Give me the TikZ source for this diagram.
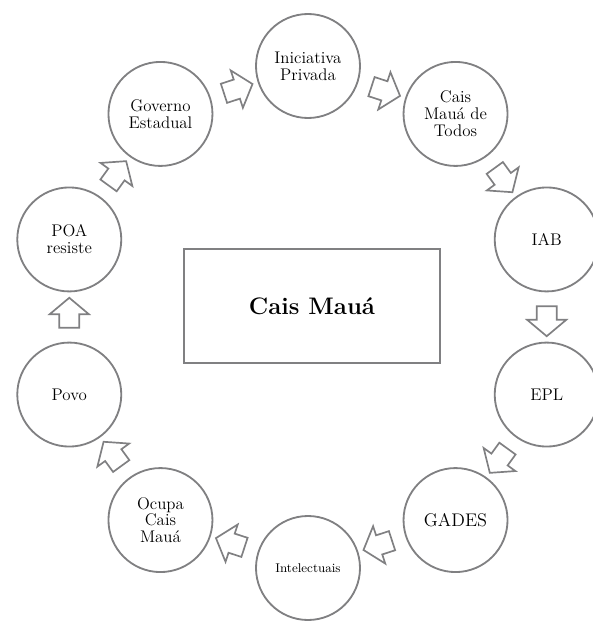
\documentclass[tikz,border=0pt]{standalone}
\usepackage{amsmath,amssymb}
\usepackage{xcolor}
\usepackage{tikz}
\usetikzlibrary{shapes.arrows,calc}

\definecolor{ringgray}{RGB}{128,128,130}

\begin{document}
\begin{tikzpicture}[
  actor/.style={draw=ringgray, circle, line width=1.3pt, minimum size=2.6cm, inner sep=1pt, align=center, font=\fontsize{12}{12}\selectfont},
  blockarrow/.style={draw=ringgray, single arrow, line width=1.2pt, inner sep=0.23cm, minimum height=0.75cm, single arrow head extend=0.24cm, single arrow tip angle=100}]
  \useasboundingbox (-7.7,-7.6) rectangle (7.1,7.925);

  % Centre
  \node[draw=ringgray, line width=1.3pt, minimum width=6.4cm, minimum height=2.85cm, font=\fontsize{17}{20}\selectfont\bfseries] (cais) at (0.1,0.275) {Cais Mauá};

  % Ring of actors
  \node[actor] (ini) at (90:6.275) {Iniciativa\\Privada};
  \node[actor] (todos) at (54:6.275) {Cais\\Mauá de\\Todos};
  \node[actor] (iab) at (18:6.275) {IAB};
  \node[actor] (epl) at (-18:6.275) {EPL};
  \node[actor, font=\fontsize{13}{15}\selectfont] (gades) at (-54:6.275) {GADES};
  \node[actor, font=\fontsize{9}{10}\selectfont] (intel) at (-90:6.275) {Intelectuais};
  \node[actor] (ocupa) at (-126:6.275) {Ocupa\\Cais\\Mauá};
  \node[actor] (povo) at (-162:6.275) {Povo};
  \node[actor] (poa) at (162:6.275) {POA\\resiste};
  \node[actor] (gov) at (126:6.275) {Governo\\Estadual};

  % Block arrows between actors
  \node[blockarrow, rotate=18] (a1) at ($(gov)!0.5!(ini)$) {};
  \node[blockarrow, rotate=-18] (a2) at ($(ini)!0.5!(todos)$) {};
  \node[blockarrow, rotate=-54] (a3) at ($(todos)!0.5!(iab)$) {};
  \node[blockarrow, rotate=-90] (a4) at ($(iab)!0.5!(epl)$) {};
  \node[blockarrow, rotate=-126] (a5) at ($(epl)!0.5!(gades)$) {};
  \node[blockarrow, rotate=-162] (a6) at ($(gades)!0.5!(intel)$) {};
  \node[blockarrow, rotate=162] (a7) at ($(intel)!0.5!(ocupa)$) {};
  \node[blockarrow, rotate=126] (a8) at ($(ocupa)!0.5!(povo)$) {};
  \node[blockarrow, rotate=90] (a9) at ($(povo)!0.5!(poa)$) {};
  \node[blockarrow, rotate=54] (a10) at ($(poa)!0.5!(gov)$) {};
\end{tikzpicture}
\end{document}
